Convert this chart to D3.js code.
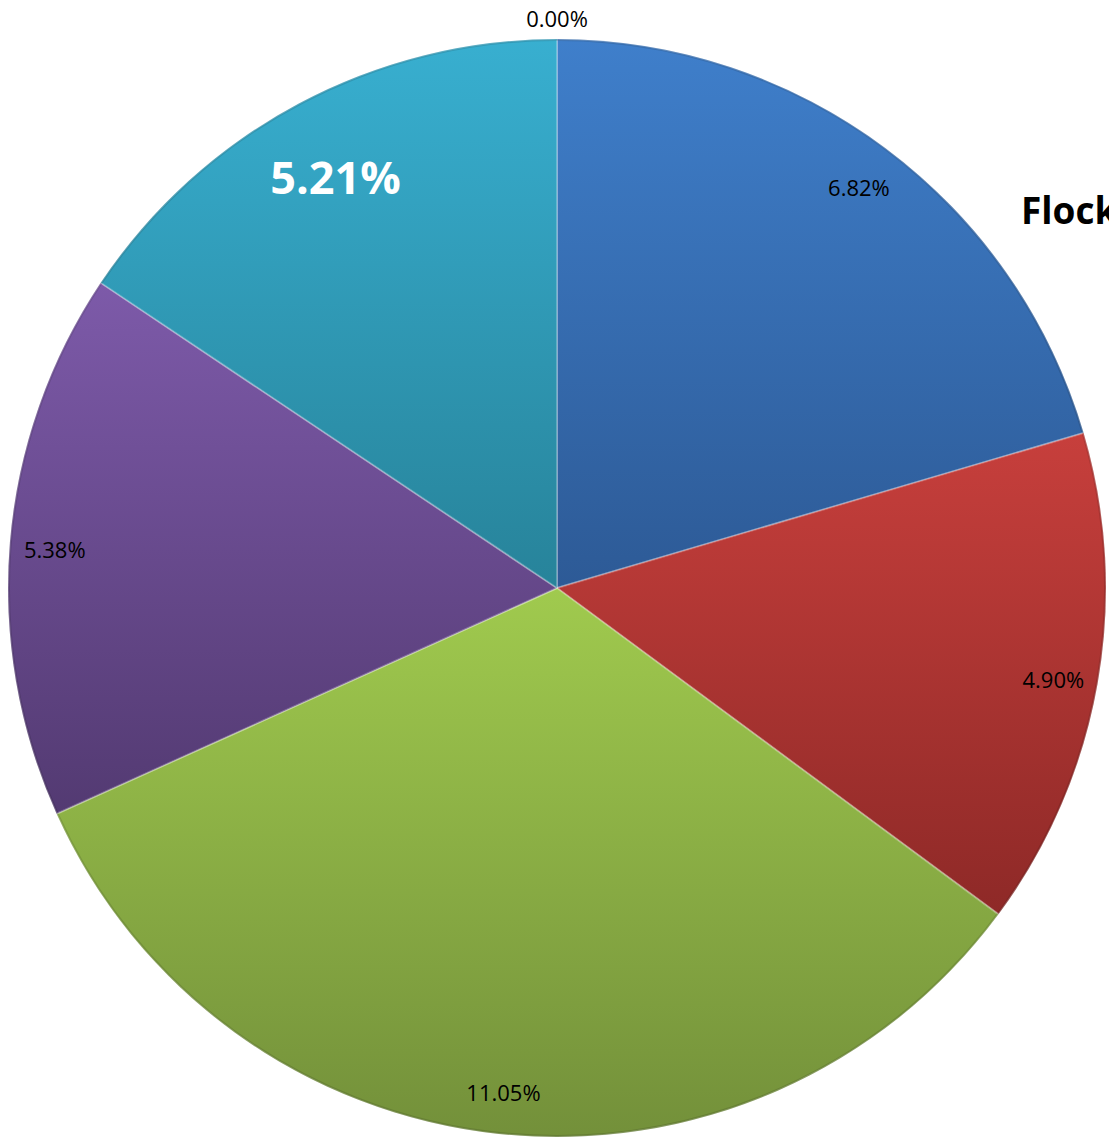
<!DOCTYPE html>
<html>
<head>
<meta charset="utf-8">
<script src="https://cdn.jsdelivr.net/npm/d3@7"></script>
<style>
  html, body { margin: 0; padding: 0; background: #fff; overflow: hidden; }
  #chart { width: 1109px; height: 1139px; }
</style>
</head>
<body>
<div id="chart"></div>
<script>
// DATA (percent shares, clockwise from 12 o'clock)
const values = [0.00, 6.82, 4.90, 11.05, 5.38, 5.21];
const labels = ["0.00%", "6.82%", "4.90%", "11.05%", "5.38%", "5.21%"];
const topColors = ["#3f7fcb", "#3f7fcb", "#c73f3c", "#a0ca4e", "#7d5aa9", "#38afd0"];
const bottomColors = ["#2d5a96", "#2d5a96", "#8e2927", "#73903a", "#533a72", "#27839a"];
const highlighted = 5; // slice with the big white label
const titleText = "Flock";

// CONSTANTS
const width = 1109;
const height = 1139;
const cx = 557;
const cy = 588;
const radius = 549;

const svg = d3.select("#chart")
  .append("svg")
  .attr("width", width)
  .attr("height", height);

const defs = svg.append("defs");

values.forEach((v, i) => {
  const g = defs.append("linearGradient")
    .attr("id", "grad" + i)
    .attr("x1", 0).attr("y1", 0)
    .attr("x2", 0).attr("y2", 1);
  g.append("stop").attr("offset", "0%").attr("stop-color", topColors[i]);
  g.append("stop").attr("offset", "100%").attr("stop-color", bottomColors[i]);
});

// PIE
const pie = d3.pie().sort(null).value(d => d);
const arcs = pie(values);

const arc = d3.arc().innerRadius(0).outerRadius(radius);

const pieGroup = svg.append("g")
  .attr("transform", `translate(${cx},${cy})`);

pieGroup.selectAll("path.slice")
  .data(arcs)
  .join("path")
  .attr("class", "slice")
  .attr("d", arc)
  .attr("fill", (d, i) => `url(#grad${i})`)
  .attr("stroke", "rgba(255,255,255,0.25)")
  .attr("stroke-width", 2)
  .attr("stroke-linejoin", "round");

// soft dark rim round the pie
pieGroup.append("circle")
  .attr("r", radius - 1)
  .attr("fill", "none")
  .attr("stroke", "rgba(0,0,0,0.12)")
  .attr("stroke-width", 2);

// LABELS
function labelRadius(d, i) {
  if (d.value === 0) return 570;
  if (i === highlighted) return 470;
  return 504;
}

pieGroup.selectAll("text.label")
  .data(arcs)
  .join("text")
  .attr("class", "label")
  .attr("transform", (d, i) => {
    const r = labelRadius(d, i);
    const c = d3.arc().innerRadius(r).outerRadius(r).centroid(d);
    return `translate(${c[0]},${c[1] + (d.value === 0 ? 0 : 3)})`;
  })
  .attr("text-anchor", "middle")
  .attr("dominant-baseline", "central")
  .attr("font-family", "'Open Sans', sans-serif")
  .attr("font-size", (d, i) => i === highlighted ? 45 : 22)
  .attr("font-weight", (d, i) => i === highlighted ? "bold" : "normal")
  .attr("fill", (d, i) => i === highlighted ? "#ffffff" : "#000000")
  .text((d, i) => labels[i]);

// TITLE (runs off the right edge, as in the source)
svg.append("text")
  .attr("x", 1021)
  .attr("y", 224)
  .attr("font-family", "'Open Sans', sans-serif")
  .attr("font-size", 37)
  .attr("font-weight", "bold")
  .attr("fill", "#000")
  .text(titleText);
</script>
</body>
</html>
